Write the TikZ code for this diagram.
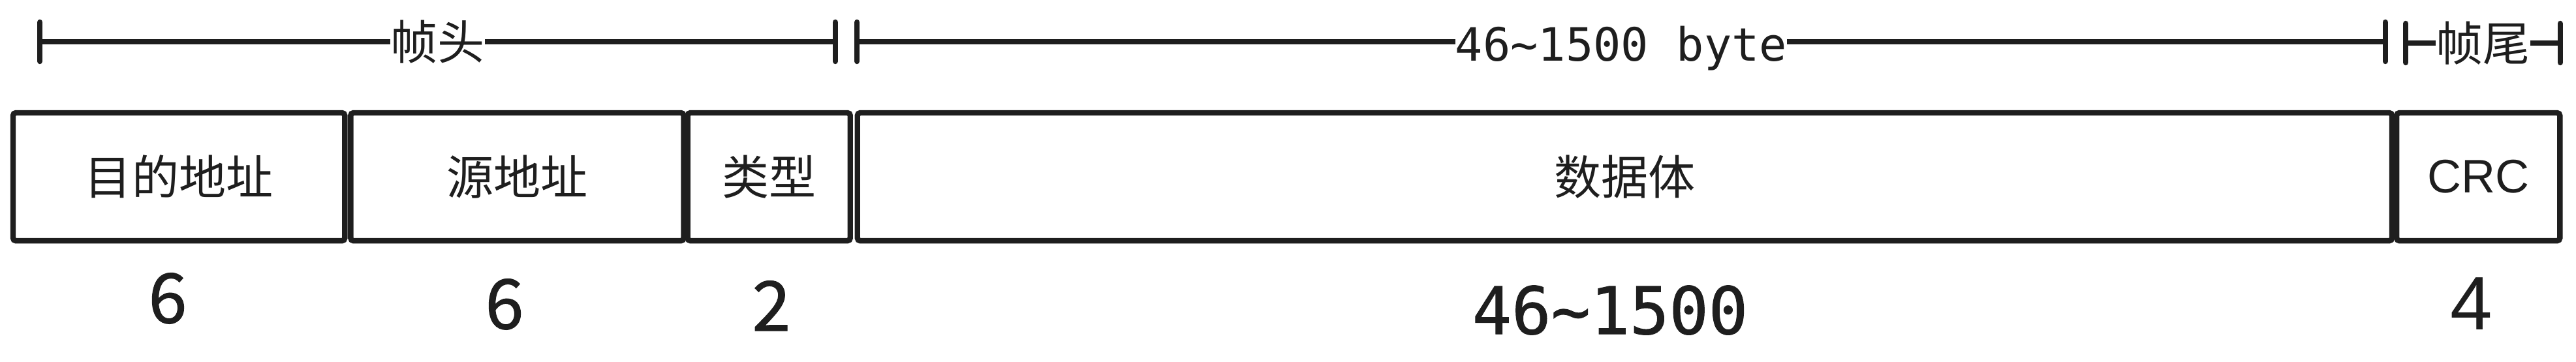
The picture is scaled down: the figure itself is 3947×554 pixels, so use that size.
\documentclass[tikz,border=0pt]{standalone}
\usepackage{fontspec}
\setmainfont{Liberation Sans}
\newfontfamily\cjk{Noto Sans CJK SC}
\newfontfamily\cjkmed[FakeBold=1.2]{Noto Sans CJK SC}
\newfontfamily\mono{DejaVu Sans Mono}
\newfontfamily\monomed[FakeBold=1]{DejaVu Sans Mono}
\usetikzlibrary{arrows.meta, positioning}
\definecolor{ink}{HTML}{1E1E1E}
\tikzset{
  fld/.style = {draw=ink, line width=2.4pt, rounded corners=1.2pt, outer sep=0pt,
                minimum height=1.96cm, inner sep=0pt, text=ink,
                font=\cjk\fontsize{20.5}{24}\selectfont},
  dim/.style = {draw=ink, line width=2.4pt, line cap=round,
                {Bar[width=0.6cm, line cap=round]}-{Bar[width=0.6cm, line cap=round]}},
  lbl/.style = {fill=white, inner sep=0pt, text=ink,
                font=\cjk\fontsize{20.5}{24}\selectfont},
  num/.style = {anchor=base, inner sep=0pt, text=ink,
                font=\cjkmed\fontsize{30}{36}\selectfont},
}

\begin{document}
\begin{tikzpicture}[x=0.01cm, y=-0.01cm]
  \useasboundingbox (0,0) rectangle (3947,554);
  % frame fields
  \node[fld, minimum width=5.08cm, anchor=north west] (dst) at (20,173) {目的地址};
  \node[fld, minimum width=5.10cm, right=0.09cm of dst] (src) {源地址};
  \node[fld, minimum width=2.49cm, right=0.06cm of src] (typ) {类型};
  \node[fld, minimum width=23.50cm, right=0.11cm of typ] (dat) {数据体};
  \node[fld, minimum width=2.50cm, right=0.07cm of dat,
        font=\fontsize{20.5}{24}\selectfont] (crc) {CRC};
  % sizes in byte
  \node[num] (n1) at (257,495) {6};
  \node[num] (n2) at (773,504) {6};
  \node[num] (n3) at (1182,507) {2};
  \node[num, font=\monomed\fontsize{28.5}{34}\selectfont] (n4) at (2467,512) {46\textasciitilde1500};
  \node[num, font=\fontsize{33}{40}\selectfont] (n5) at (3787,505) {4};
  % spans above
  \coordinate (h1) at (57,64);   \coordinate (h2) at (1284,64);
  \coordinate (d1) at (1309,64); \coordinate (d2) at (3659,64);
  \coordinate (t1) at (3682,66); \coordinate (t2) at (3927,66);
  \draw[dim] (h1) -- node[lbl] {帧头} (h2);
  \draw[dim] (d1) -- node[lbl, yshift=-0.1cm, font=\mono\fontsize{20}{24}\selectfont]
             {46\textasciitilde1500 byte} (d2);
  \draw[dim] (t1) -- node[lbl] {帧尾} (t2);
\end{tikzpicture}
\end{document}
